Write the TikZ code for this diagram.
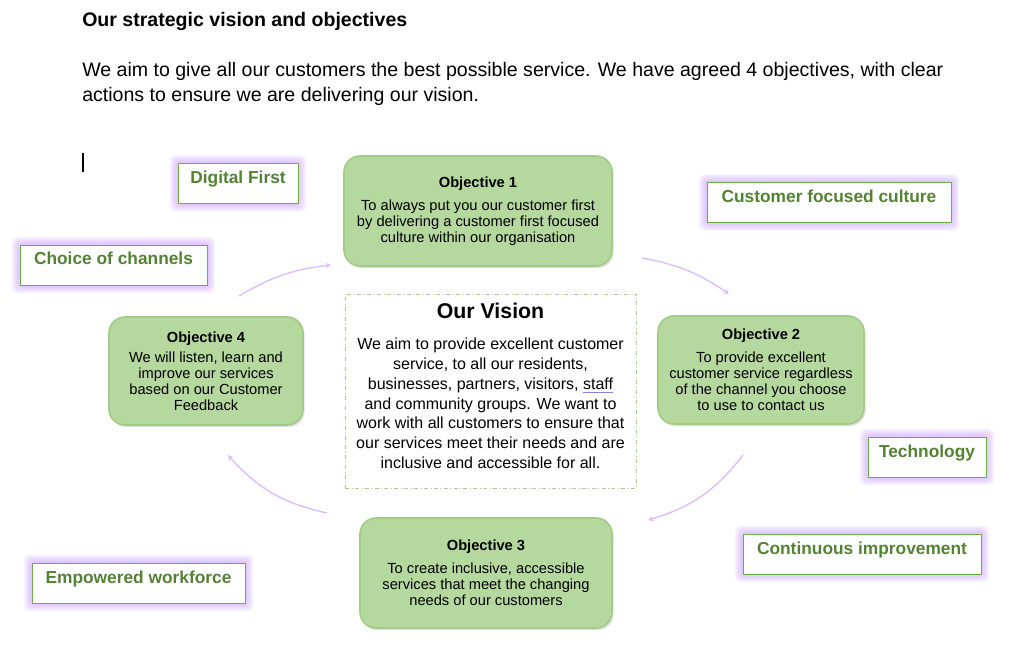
\documentclass[tikz,border=0pt]{standalone}
\usepackage{fontspec}
\setmainfont{Liberation Sans}
\usetikzlibrary{arrows.meta}
\usetikzlibrary{shadows}
\usetikzlibrary{backgrounds}

\definecolor{objfill}{HTML}{B5D89E}
\definecolor{objedge}{HTML}{A2CB86}
\definecolor{lblgreen}{HTML}{548235}
\definecolor{lbledge}{HTML}{70AD47}
\definecolor{glowc}{HTML}{C9A0FF}
\definecolor{arcc}{HTML}{DDBBFF}
\definecolor{visedge}{HTML}{A9D18E}
\definecolor{markc}{HTML}{8585E0}

% soft purple halo round a label box
\newcommand\glowbox[1]{%
	\foreach \r in {1,...,8}{\fill[glowc,opacity=0.1,rounded corners=4pt] ([shift={(-\r,\r)}]#1.north west) rectangle ([shift={(\r,-\r)}]#1.south east);}}
\newcommand\gramline[1]{\setbox0\hbox{#1}\rlap{\color{markc}\rule[-2.5pt]{\wd0}{0.5pt}}#1}

\begin{document}
\begin{tikzpicture}[x=0.75pt,y=0.75pt,
	objbox/.style={draw=objedge,line width=1.2pt,fill=objfill,rounded corners=12pt,align=center,inner sep=2pt,font=\fontsize{11}{12}\selectfont,drop shadow={shadow xshift=1.2pt,shadow yshift=-1.5pt,opacity=0.25}},
	lblbox/.style={draw=lbledge,line width=0.7pt,fill=white,text=lblgreen,font=\fontsize{13}{14}\selectfont\bfseries,text height=15pt,text depth=15pt,inner sep=0pt},
	visbox/.style={draw=visedge,dash dot,line width=0.6pt},
	cycarrow/.style={draw=arcc,line width=1pt,-{Stealth[length=4pt,width=4pt]}}]
	\useasboundingbox (0,0) rectangle (1014,-659);

	% heading
	\node[anchor=base west,inner sep=0,font=\fontsize{14.67}{17}\selectfont\bfseries] (title) at (82,-27) {Our strategic vision and objectives};
	\node[anchor=base west,inner sep=0,font=\fontsize{14.67}{17}\selectfont] (intro1) at (82,-77) {We aim to give all our customers the best possible service. We have agreed 4 objectives, with clear};
	\node[anchor=base west,inner sep=0,font=\fontsize{14.67}{17}\selectfont] (intro2) at (82,-102) {actions to ensure we are delivering our vision.};
	\draw[line width=0.8pt] (83,-153) -- (83,-172);

	% vision
	\node[visbox,minimum width=218.25pt,minimum height=145.5pt] (visbox) at (490.5,-391) {};
	\node[align=center,inner sep=0,font=\fontsize{12}{14.8}\selectfont] (vistxt) at (490.5,-386) {{\fontsize{16}{19}\selectfont\bfseries Our Vision}\\[8.5pt]
		We aim to provide excellent customer\\ service, to all our residents,\\ businesses, partners, visitors, \gramline{staff}\\ and community groups. We want to\\ work with all customers to ensure that\\ our services meet their needs and are\\ inclusive and accessible for all.};

	% objectives
	\node[objbox,minimum width=201pt,minimum height=82.5pt] (obj1) at (478,-211) {\textbf{Objective 1}\\[5.25pt] To always put you our customer first\\ by delivering a customer first focused\\ culture within our organisation};
	\node[objbox,minimum width=154.5pt,minimum height=81pt] (obj2) at (761,-370) {\textbf{Objective 2}\\[5.25pt] To provide excellent\\ customer service regardless\\ of the channel you choose\\ to use to contact us};
	\node[objbox,minimum width=189pt,minimum height=82.5pt] (obj3) at (486,-573) {\textbf{Objective 3}\\[5.25pt] To create inclusive, accessible\\ services that meet the changing\\ needs of our customers};
	\node[objbox,minimum width=145.5pt,minimum height=81pt] (obj4) at (206,-371) {\textbf{Objective 4}\\[3pt] We will listen, learn and\\ improve our services\\ based on our Customer\\ Feedback};

	% cycle
	\coordinate (a1s) at (239,-296); \coordinate (a1e) at (331,-265);
	\coordinate (a2s) at (642,-258); \coordinate (a2e) at (729,-294);
	\coordinate (a3s) at (743,-455); \coordinate (a3e) at (648,-520);
	\coordinate (a4s) at (327,-513); \coordinate (a4e) at (228,-455);
	\draw[cycarrow] (a1s) to[bend left=12] (a1e);
	\draw[cycarrow] (a2s) to[bend left=12] (a2e);
	\draw[cycarrow] (a3s) to[bend left=18] (a3e);
	\draw[cycarrow] (a4s) to[bend left=18] (a4e);

	% labels
	\node[lblbox,minimum width=90pt] (digital) at (238,-183.5) {Digital First};
	\node[lblbox,minimum width=183pt] (culture) at (829,-202.5) {Customer focused culture};
	\node[lblbox,minimum width=140.25pt] (channels) at (113.5,-265) {Choice of channels};
	\node[lblbox,minimum width=88.5pt] (tech) at (927,-457) {Technology};
	\node[lblbox,minimum width=178.5pt] (improve) at (862,-554) {Continuous improvement};
	\node[lblbox,minimum width=159.75pt] (workforce) at (138.5,-583) {Empowered workforce};
	\begin{scope}[on background layer]
		\foreach \b in {digital,culture,channels,tech,improve,workforce} {\glowbox{\b}}
	\end{scope}

\end{tikzpicture}
\end{document}
